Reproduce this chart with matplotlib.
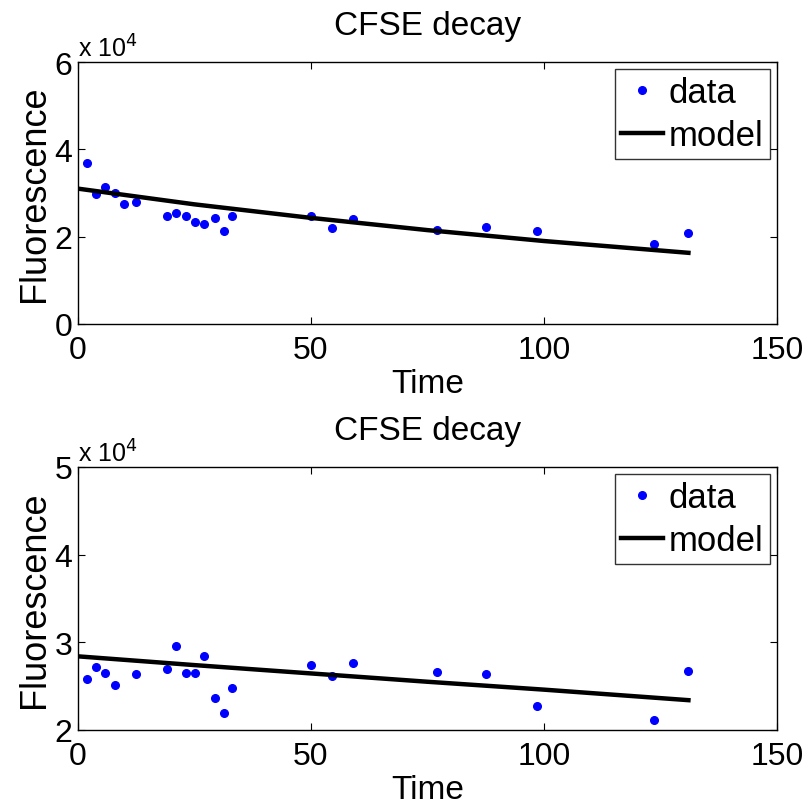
import matplotlib
matplotlib.use('Agg')
import matplotlib.pyplot as plt
from matplotlib.ticker import FuncFormatter
import numpy as np

plt.rcParams['font.family'] = ['Liberation Sans', 'DejaVu Sans']

# measurement times (shared by both panels)
time = np.array([1.9, 3.9, 5.9, 7.9, 9.9, 12.4, 19.1, 21.1, 23.1, 25.1, 27.1,
                 29.3, 31.3, 33.1, 50.1, 54.6, 59.1, 77.1, 87.6, 98.6, 123.6, 131.0])

# fluorescence, in units of 1e4
data_top = np.array([3.69, 2.97, 3.14, 2.99, 2.75, 2.79, 2.47, 2.54, 2.47, 2.34, 2.29,
                     2.43, 2.13, 2.47, 2.48, 2.20, 2.40, 2.15, 2.21, 2.12, 1.84, 2.08])
data_bot = np.array([2.58, 2.72, 2.65, 2.51, np.nan, 2.64, 2.70, 2.96, 2.65, 2.65, 2.84,
                     2.36, 2.19, 2.48, 2.74, 2.62, 2.76, 2.66, 2.64, 2.27, 2.11, 2.67])

# fitted model curves, read at a few times
model_t = np.array([0, 25, 50, 75, 100, 131])
model_top = np.array([3.10, 2.74, 2.43, 2.15, 1.90, 1.63])
model_bot = np.array([2.84, 2.74, 2.645, 2.55, 2.46, 2.34])

scale = 1e4

fig = plt.figure(figsize=(8.09, 8.03), dpi=100)
ax1 = fig.add_axes([0.0964, 0.5953, 0.864, 0.3262])
ax2 = fig.add_axes([0.0964, 0.0897, 0.864, 0.3275])

panels = [(ax1, data_top, model_top, (0, 6), [0, 2, 4, 6]),
          (ax2, data_bot, model_bot, (2, 5), [2, 3, 4, 5])]

for ax, d, m, ylim, yt in panels:
    ax.plot(time, d * scale, '.', color='#0000ff', markersize=11, label='data')
    ax.plot(model_t, m * scale, '-', color='black', linewidth=3.2, label='model')
    ax.set_xlim(0, 150)
    ax.set_ylim(ylim[0] * scale, ylim[1] * scale)
    ax.set_xticks([0, 50, 100, 150])
    ax.set_yticks([v * scale for v in yt])
    ax.yaxis.set_major_formatter(FuncFormatter(lambda v, p: '%g' % (v / scale)))
    ax.tick_params(direction='in', top=True, right=True, labelsize=23,
                   length=5, width=0.8)
    ax.tick_params(axis='x', pad=8)
    ax.tick_params(axis='y', pad=4)
    for s in ax.spines.values():
        s.set_linewidth(1.0)
    ax.set_title('CFSE decay', fontsize=24, pad=20)
    ax.set_xlabel('Time', fontsize=24, labelpad=2)
    ax.set_ylabel('Fluorescence', fontsize=26, labelpad=2)
    ax.text(0.0, 1.0, 'x 10$^{4}$', transform=ax.transAxes, fontsize=18,
            ha='left', va='bottom')
    leg = ax.legend(loc='upper right', fontsize=25, frameon=True, fancybox=False,
                    edgecolor='black', handlelength=1.2, handletextpad=0.15,
                    borderpad=0.2, labelspacing=0.3, borderaxespad=0.2)
    leg.get_frame().set_linewidth(1.0)

fig.savefig('out.png', dpi=100)
